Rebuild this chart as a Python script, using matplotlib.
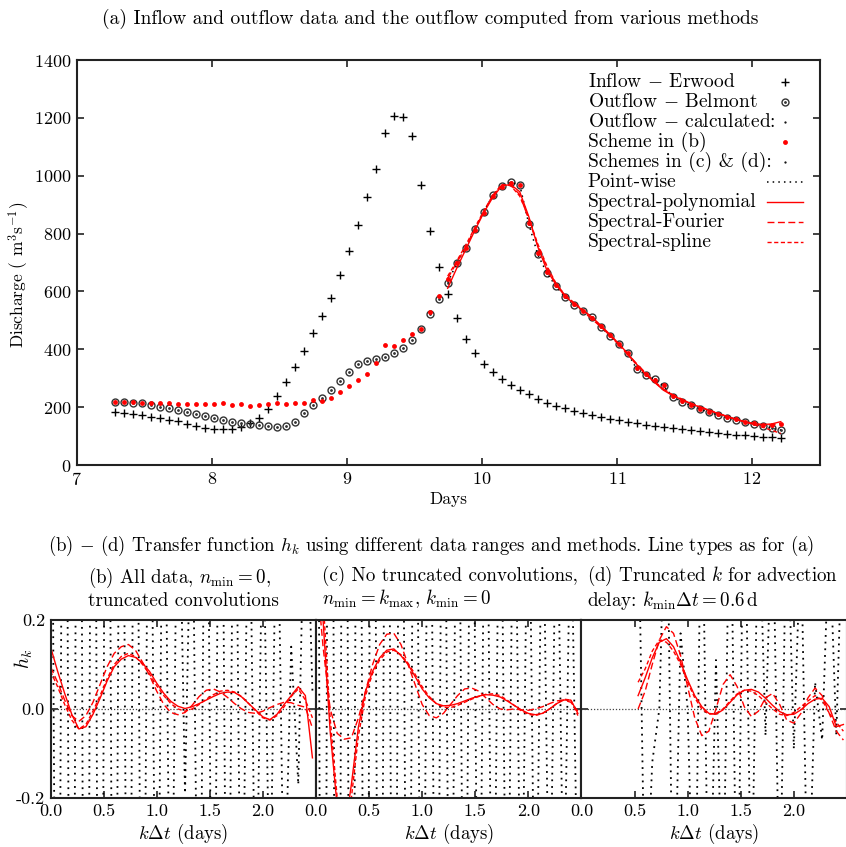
import numpy as np
import matplotlib
matplotlib.use("Agg")
import matplotlib.pyplot as plt

plt.rcParams.update({
    "font.family": "serif", "font.serif": ["cmr10", "DejaVu Serif"],
    "mathtext.fontset": "cm", "axes.formatter.use_mathtext": True,
    "axes.unicode_minus": False,
})
C_AX = "#222222"

# ---- (a) hydrograph data, one sample every 1/15 day starting at day 7.28
t0, dt = 7.28, 1.0 / 15.0
inflow = [184, 181, 177, 173, 167, 163, 157, 151, 143, 135, 128, 123, 123, 126, 132,
          144, 161, 194, 240, 287, 339, 393, 455, 516, 578, 657, 739, 831, 928, 1023,
          1147, 1206, 1202, 1137, 968, 810, 684, 590, 507, 434, 387, 349, 320, 297,
          277, 259, 244, 229, 215, 205, 196, 188, 180, 173, 166, 160, 154, 149, 144,
          139, 135, 131, 127, 123, 120, 116, 113, 109, 107, 105, 103, 100, 98, 96, 93]
outflow = [219, 218, 215, 213, 207, 202, 196, 190, 183, 176, 169, 161, 156, 150, 145,
           142, 138, 135, 133, 135, 150, 179, 206, 233, 260, 290, 321, 348, 358, 366,
           374, 386, 406, 432, 472, 521, 574, 631, 697, 752, 815, 876, 932, 966, 978,
           969, 835, 728, 665, 619, 582, 555, 534, 513, 478, 447, 418, 386, 332, 311,
           296, 273, 236, 219, 206, 194, 183, 173, 164, 156, 149, 142, 136, 127, 121]
scheme_b = [219, 218, 217, 214, 215, 214, 213, 212, 212, 210, 210, 210, 213, 206, 210,
            205, 207, 210, 215, 211, 214, 215, 225, 222, 233, 252, 274, 294, 315, 351,
            415, 413, 431, 452, 472, 528, 585, 642, 699, 750, 812, 872, 930, 962, 975,
            968, 838, 733, 668, 622, 583, 556, 532, 510, 480, 448, 420, 388, 336, 313,
            294, 275, 240, 222, 208, 195, 185, 175, 165, 158, 150, 144, 140, 138, 142]
# computed outflow, schemes (c) & (d), from sample 37 onwards
calc_start = 37
calc_poly = [611, 680, 745, 810, 872, 925, 965, 970, 945, 860, 755, 675, 625, 585, 558,
             535, 512, 483, 452, 420, 385, 348, 314, 285, 258, 240, 226, 212, 200, 189,
             178, 168, 159, 150, 143, 140, 142, 150]
calc_fourier = [645, 700, 752, 815, 875, 930, 968, 968, 935, 850, 760, 685, 628, 590,
                560, 532, 505, 478, 450, 418, 384, 350, 318, 288, 262, 243, 228, 214,
                202, 190, 179, 168, 157, 149, 142, 138, 139, 144]
calc_spline = [653, 705, 760, 820, 878, 932, 970, 966, 930, 855, 765, 690, 630, 588,
               562, 538, 510, 480, 448, 416, 382, 346, 313, 286, 260, 241, 226, 213,
               201, 190, 179, 168, 158, 150, 140, 130, 120, 109]

# ---- (b)-(d) transfer functions, lag k*dt with dt = 1/15 day
pw_b = [1.2, -1.5, 1.8, -2.0, 2.1, -2.2, 2.0, -1.9, 1.8, -1.6, 1.5, -1.4, 1.3, -1.2,
        1.1, -1.0, 0.9, -0.8, 0.7, -0.19, 0.6, -0.9, 1.0, -1.1, 1.2, -1.0, 0.9, -0.8,
        0.7, -0.6, 0.5, -0.5, 0.6, -0.5, 0.14, -0.17, 0.6, 0.04]
poly_b = [0.14, 0.085, 0.035, -0.012, -0.045, -0.04, -0.012, 0.024, 0.063, 0.095, 0.112,
          0.12, 0.116, 0.103, 0.084, 0.058, 0.035, 0.017, 0.006, 0.001, 0.005, 0.012,
          0.02, 0.028, 0.035, 0.038, 0.037, 0.027, 0.012, -0.003, -0.018, -0.024,
          -0.012, 0.01, 0.03, 0.05, 0.03, -0.11]
fourier_b = [0.095, 0.06, 0.02, -0.015, -0.028, -0.015, 0.015, 0.055, 0.095, 0.125, 0.14,
             0.145, 0.132, 0.105, 0.075, 0.04, 0.01, -0.008, -0.013, -0.008, 0.008,
             0.028, 0.042, 0.045, 0.038, 0.026, 0.012, 0.0, -0.008, -0.01, -0.005, 0.003,
             0.01, 0.015, 0.014, 0.008, 0.004, -0.043]
spline_b = [0.085, 0.05, 0.01, -0.025, -0.045, -0.035, -0.005, 0.03, 0.068, 0.1, 0.118,
            0.125, 0.118, 0.1, 0.078, 0.052, 0.03, 0.012, 0.0, -0.005, 0.0, 0.01, 0.022,
            0.032, 0.04, 0.042, 0.038, 0.028, 0.012, -0.005, -0.02, -0.025, -0.015, 0.005,
            0.028, 0.045, 0.02, -0.02]
pw_c = [2.5, -2.8, 2.6, -2.4, 2.2, -2.0, 1.9, -1.8, 1.7, -1.6, 1.5, -1.5, 1.4, -1.4,
        1.3, -1.3, 1.2, -1.2, 1.1, -1.1, 1.0, -1.0, 1.0, -0.9, 0.9, -0.9, 0.8, -0.8,
        0.8, -0.7, 0.7, -0.7, 0.6, -0.6, 0.6, -0.5, 0.5, -0.5]
poly_c = [0.45, 0.2, -0.05, -0.22, -0.28, -0.17, -0.04, 0.04, 0.085, 0.115, 0.132, 0.135,
          0.12, 0.1, 0.073, 0.045, 0.025, 0.012, 0.007, 0.008, 0.012, 0.018, 0.024,
          0.029, 0.032, 0.031, 0.027, 0.018, 0.008, -0.002, -0.01, -0.013, -0.01, 0.0,
          0.012, 0.02, 0.02, -0.01]
fourier_c = [0.32, 0.14, 0.0, -0.055, -0.068, -0.065, -0.02, 0.04, 0.1, 0.145, 0.168,
             0.17, 0.145, 0.1, 0.055, 0.01, -0.015, -0.02, -0.01, 0.01, 0.03, 0.045,
             0.047, 0.04, 0.025, 0.01, 0.0, -0.002, 0.0, -0.002, -0.003, 0.0, 0.005,
             0.012, 0.018, 0.02, 0.015, -0.005]
spline_c = [0.5, 0.25, -0.02, -0.2, -0.3, -0.2, -0.06, 0.03, 0.08, 0.11, 0.128, 0.132,
            0.122, 0.103, 0.078, 0.05, 0.028, 0.012, 0.004, 0.003, 0.008, 0.015, 0.022,
            0.028, 0.033, 0.034, 0.03, 0.02, 0.008, -0.004, -0.012, -0.015, -0.01, 0.0,
            0.012, 0.022, 0.02, -0.015]
kmin_d = 8
pw_d = [0.5, -0.5, -0.12, 0.0, 0.6, -0.6, 0.17, 0.0, -0.6, 0.6, -0.6, 0.11, -0.5, 0.6,
        -0.6, 0.6, -0.5, 0.5, -0.06, 0.5, -0.5, 0.5, -0.09, 0.4, -0.5, 0.06, -0.07,
        0.4, -0.06, 0.5]
poly_d = [0.03, 0.07, 0.115, 0.15, 0.158, 0.14, 0.105, 0.065, 0.03, 0.005, -0.01, -0.012,
          -0.002, 0.015, 0.032, 0.042, 0.044, 0.038, 0.024, 0.008, -0.006, -0.013, -0.012,
          -0.002, 0.012, 0.022, 0.024, 0.005, -0.04, -0.035]
fourier_d = [0.0, 0.04, 0.1, 0.155, 0.185, 0.17, 0.12, 0.05, -0.02, -0.06, -0.05, 0.0,
             0.055, 0.077, 0.05, 0.005, -0.017, -0.005, 0.025, 0.035, 0.01, -0.025,
             -0.032, -0.01, 0.025, 0.047, 0.03, -0.01, -0.05, -0.07]
spline_d = [0.06, 0.09, 0.13, 0.155, 0.15, 0.13, 0.1, 0.06, 0.025, 0.0, -0.012, -0.01,
            0.0, 0.018, 0.034, 0.042, 0.04, 0.03, 0.015, 0.0, -0.012, -0.015, -0.008,
            0.005, 0.018, 0.03, 0.02, -0.01, -0.03, -0.05]

legend_labels = [r"Inflow $-$ Erwood", r"Outflow $-$ Belmont", r"Outflow $-$ calculated:",
                 "Scheme in (b)", "Schemes in (c) & (d):", "Point-wise",
                 "Spectral-polynomial", "Spectral-Fourier", "Spectral-spline"]

DOT = (0, (1, 2.7))
FOUR = (0, (5, 2.5))
SPL = (0, (3, 1.8))
# marker / line style per legend row
MK_IN = dict(ls="none", marker="+", ms=6, mew=1.0, color="k")
MK_OUT = dict(ls="none", marker="o", ms=5, mfc="none", mec="#333333", mew=1.0)
MK_OUTC = dict(ls="none", marker=".", ms=2, color="#333333")
MK_TINY = dict(ls="none", marker=".", ms=1.2, color="k")
MK_RED = dict(ls="none", marker="o", ms=3.5, mew=0, color="red")
LN_PW = dict(ls=DOT, lw=1.1, color="k")
LN_PO = dict(ls="-", lw=1.0, color="red")
LN_FO = dict(ls=FOUR, lw=1.0, color="red")
LN_SP = dict(ls=SPL, lw=1.0, color="red")


def style(ax, ls=13):
    for s in ax.spines.values():
        s.set_linewidth(1.5); s.set_color(C_AX)
    ax.tick_params(direction="in", top=True, right=True, length=5, width=1.2,
                   color=C_AX, labelsize=ls, pad=4)


fig = plt.figure(figsize=(8.46, 8.47), dpi=100)

# ---------------- (a)
ax = fig.add_axes([0.0907, 0.451, 0.878, 0.478])
days = t0 + dt * np.arange(len(inflow))
ax.plot(days, inflow, **MK_IN)
ax.plot(days, outflow, **MK_OUT)
ax.plot(days, outflow, **MK_OUTC)
cd = days[calc_start:]
ax.plot(cd, outflow[calc_start:], **LN_PW)
ax.plot(cd, calc_poly, **LN_PO)
ax.plot(cd, calc_fourier, **LN_FO)
ax.plot(cd, calc_spline, **LN_SP)
ax.plot(days, scheme_b, **MK_RED)
ax.set_xlim(7, 12.5); ax.set_ylim(0, 1400)
ax.set_xticks([7, 8, 9, 10, 11, 12]); ax.set_yticks(range(0, 1401, 200))
ax.set_xlabel("Days", fontsize=12.5, labelpad=3)
ax.set_ylabel(r"Discharge ( m$^3$s$^{-1}$)", fontsize=12.5)
ax.yaxis.set_label_coords(-0.062, 0.469)
style(ax)

# legend: left-aligned text, key on the right
row_y = [0.946, 0.897, 0.847, 0.798, 0.748, 0.699, 0.649, 0.600, 0.551]
keys = [[MK_IN], [MK_OUT, MK_OUTC], [MK_TINY], [MK_RED], [MK_TINY],
        [LN_PW], [LN_PO], [LN_FO], [LN_SP]]
for lab, y, kk in zip(legend_labels, row_y, keys):
    ax.text(0.688, y, lab, transform=ax.transAxes, ha="left", va="center", fontsize=14)
    for k in kk:
        if k.get("ls") == "none":
            ax.plot([0.953], [y], transform=ax.transAxes, clip_on=False, **k)
        else:
            ax.plot([0.929, 0.978], [y, y], transform=ax.transAxes, clip_on=False, **k)

fig.text(0.508, 0.978, "(a) Inflow and outflow data and the outflow computed from various methods",
         ha="center", va="center", fontsize=14)
fig.text(0.509, 0.356, r"(b) $-$ (d) Transfer function $h_k$ using different data ranges and methods. Line types as for (a)",
         ha="center", va="center", fontsize=13.5)

# ---------------- (b) - (d)
panels = [
    (pw_b, poly_b, fourier_b, spline_b, 0, "(b) All data, $n_{\\rm min}=0$,\ntruncated convolutions"),
    (pw_c, poly_c, fourier_c, spline_c, 0, "(c) No truncated convolutions,\n$n_{\\rm min}=k_{\\rm max}$, $k_{\\rm min}=0$"),
    (pw_d, poly_d, fourier_d, spline_d, kmin_d, "(d) Truncated $k$ for advection\ndelay: $k_{\\rm min}\\Delta t=0.6\\,{\\rm d}$"),
]
left0, w = 0.0597, 0.3138
title_x = [0.104, 0.381, 0.694]
for i, (pw, po, fo, sp, k0, ttl) in enumerate(panels):
    a = fig.add_axes([left0 + i * w, 0.058, w, 0.21])
    lag = (k0 + np.arange(len(po))) * dt
    a.axhline(0, color="#444444", lw=0.9, ls=(0, (1, 1.5)))
    a.plot(lag, pw, ls=DOT, lw=1.3, color="k")
    a.plot(lag, po, **LN_PO)
    a.plot(lag, fo, **LN_FO)
    a.plot(lag, sp, **LN_SP)
    a.set_xlim(0, 2.5); a.set_ylim(-0.2, 0.2)
    a.set_xticks([0, 0.5, 1.0, 1.5, 2.0])
    a.set_xticklabels(["0.0", "0.5", "1.0", "1.5", "2.0"])
    a.set_yticks([-0.2, 0.0, 0.2])
    style(a, 13)
    if i == 0:
        a.set_yticklabels(["-0.2", "0.0", "0.2"])
        a.set_ylabel("$h_k$", fontsize=14)
        a.yaxis.set_label_coords(-0.06, 0.78)
    else:
        a.set_yticklabels([])
    a.set_xlabel(r"$k\Delta t$ (days)", fontsize=13.5, labelpad=2)
    fig.text(title_x[i], 0.306, ttl, ha="left", va="center", fontsize=13.7, linespacing=1.1)

fig.savefig("out.png", dpi=100)
